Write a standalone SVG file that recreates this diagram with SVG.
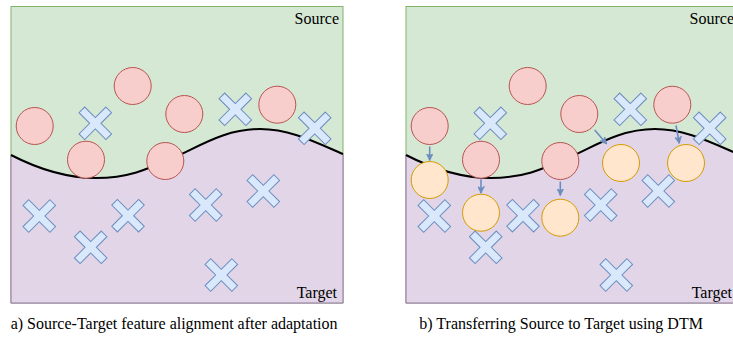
<svg xmlns="http://www.w3.org/2000/svg" xmlns:xlink="http://www.w3.org/1999/xlink" width="733" height="337" viewBox="0 0 733 337">
<style>
.src{fill:#d5e8d4;stroke:#82b366;stroke-width:1}
.tgt{fill:#e1d5e7;stroke:none}
.tgtb{fill:none;stroke:#9673a6;stroke-width:1}
.bound{fill:none;stroke:#000;stroke-width:2}
.red{fill:#f8cecc;stroke:#b85450;stroke-width:1}
.org{fill:#ffe6cc;stroke:#d79b00;stroke-width:1}
.xs{fill:#dae8fc;stroke:#6c8ebf;stroke-width:1}
.arr{fill:none;stroke:#6c8ebf;stroke-width:1.6}
text{font-family:'Liberation Serif','DejaVu Serif',serif;font-size:16px;fill:#000}
</style>
<defs>
<polygon id="cross" transform="rotate(45)" points="-4,-19 4,-19 4,-4 19,-4 19,4 4,4 4,19 -4,19 -4,4 -19,4 -19,-4 -4,-4"/>
<marker id="ah" viewBox="0 0 10 10" refX="10" refY="5" markerWidth="7" markerHeight="7" markerUnits="userSpaceOnUse" orient="auto">
<path d="M0,0 L10,5 L0,10 L3,5 Z" fill="#6c8ebf" stroke="#6c8ebf" stroke-width="1"/>
</marker>
</defs>

<!-- Panel a -->
<g id="panelA-regions">
<rect class="src" x="11" y="6.5" width="332" height="296.5"/>
<path class="tgt" d="M11,155 C40,170 70,178 96,178 C130,178 150,168 175,157 C200,146 225,129 260,129 C290,129 315,142 343,154 L343,303 L11,303 Z"/>
<path class="tgtb" d="M11,155 L11,303 L343,303 L343,154"/>
<path class="bound" d="M11,155 C40,170 70,178 96,178 C130,178 150,168 175,157 C200,146 225,129 260,129 C290,129 315,142 343,154"/>
<text font-family="Liberation Serif, DejaVu Serif, serif" x="339" y="24" text-anchor="end">Source</text>
<text font-family="Liberation Serif, DejaVu Serif, serif" x="337" y="298" text-anchor="end">Target</text>
</g>
<g id="a-s1"><circle class="red" cx="34.7" cy="126" r="18.5"/></g>
<g id="a-s2"><circle class="red" cx="132.7" cy="86" r="18.5"/></g>
<g id="a-s3"><circle class="red" cx="184.3" cy="114" r="18.5"/></g>
<g id="a-s4"><circle class="red" cx="277.3" cy="104.7" r="18.5"/></g>
<g id="a-s5"><circle class="red" cx="86" cy="159.7" r="18.5"/></g>
<g id="a-s6"><circle class="red" cx="165.3" cy="161" r="18.5"/></g>
<g id="a-t1"><use class="xs" xlink:href="#cross" href="#cross" x="95.3" y="123.3"/></g>
<g id="a-t2"><use class="xs" xlink:href="#cross" href="#cross" x="235.3" y="109.3"/></g>
<g id="a-t3"><use class="xs" xlink:href="#cross" href="#cross" x="314.7" y="128.3"/></g>
<g id="a-t4"><use class="xs" xlink:href="#cross" href="#cross" x="39.3" y="216"/></g>
<g id="a-t5"><use class="xs" xlink:href="#cross" href="#cross" x="128" y="215.7"/></g>
<g id="a-t6"><use class="xs" xlink:href="#cross" href="#cross" x="90.7" y="247.3"/></g>
<g id="a-t7"><use class="xs" xlink:href="#cross" href="#cross" x="205.7" y="205"/></g>
<g id="a-t8"><use class="xs" xlink:href="#cross" href="#cross" x="263.3" y="191"/></g>
<g id="a-t9"><use class="xs" xlink:href="#cross" href="#cross" x="221.3" y="275"/></g>
<text font-family="Liberation Serif, DejaVu Serif, serif" x="10.7" y="329">a) Source-Target feature alignment after adaptation</text>

<!-- Panel b -->
<g id="panelB-regions">
<rect class="src" x="406" y="6.5" width="332" height="296.5"/>
<path class="tgt" d="M406,155 C435,170 465,178 491,178 C525,178 545,168 570,157 C595,146 620,129 655,129 C685,129 710,142 738,154 L738,303 L406,303 Z"/>
<path class="tgtb" d="M406,155 L406,303 L738,303 L738,154"/>
<path class="bound" d="M406,155 C435,170 465,178 491,178 C525,178 545,168 570,157 C595,146 620,129 655,129 C685,129 710,142 738,154"/>
<text font-family="Liberation Serif, DejaVu Serif, serif" x="734" y="24" text-anchor="end">Source</text>
<text font-family="Liberation Serif, DejaVu Serif, serif" x="732" y="298" text-anchor="end">Target</text>
</g>
<g id="b-s1"><circle class="red" cx="429.7" cy="126" r="18.5"/></g>
<g id="b-s2"><circle class="red" cx="527.7" cy="86" r="18.5"/></g>
<g id="b-s3"><circle class="red" cx="579.3" cy="114" r="18.5"/></g>
<g id="b-s4"><circle class="red" cx="672.3" cy="104.7" r="18.5"/></g>
<g id="b-s5"><circle class="red" cx="481" cy="159.7" r="18.5"/></g>
<g id="b-s6"><circle class="red" cx="560.3" cy="161" r="18.5"/></g>
<g id="b-t1"><use class="xs" xlink:href="#cross" href="#cross" x="490.3" y="123.3"/></g>
<g id="b-t2"><use class="xs" xlink:href="#cross" href="#cross" x="630.3" y="109.3"/></g>
<g id="b-t3"><use class="xs" xlink:href="#cross" href="#cross" x="709.7" y="128.3"/></g>
<g id="b-t4"><use class="xs" xlink:href="#cross" href="#cross" x="434.3" y="216"/></g>
<g id="b-t5"><use class="xs" xlink:href="#cross" href="#cross" x="523" y="215.7"/></g>
<g id="b-t6"><use class="xs" xlink:href="#cross" href="#cross" x="485.7" y="247.3"/></g>
<g id="b-t7"><use class="xs" xlink:href="#cross" href="#cross" x="600.7" y="205"/></g>
<g id="b-t8"><use class="xs" xlink:href="#cross" href="#cross" x="658.3" y="191"/></g>
<g id="b-t9"><use class="xs" xlink:href="#cross" href="#cross" x="616.3" y="275"/></g>
<g id="b-m1"><circle class="org" cx="429.7" cy="180" r="18.5"/></g>
<g id="b-m2"><circle class="org" cx="481" cy="212.7" r="18.5"/></g>
<g id="b-m3"><circle class="org" cx="560.3" cy="217.7" r="18.5"/></g>
<g id="b-m4"><circle class="org" cx="621" cy="163" r="18.5"/></g>
<g id="b-m5"><circle class="org" cx="686" cy="163" r="18.5"/></g>
<g id="connectors">
<line class="arr" x1="429.7" y1="146.5" x2="429.7" y2="160.5" marker-end="url(#ah)"/>
<line class="arr" x1="481" y1="179.3" x2="481" y2="193.3" marker-end="url(#ah)"/>
<line class="arr" x1="560.3" y1="181.5" x2="560.3" y2="195.5" marker-end="url(#ah)"/>
<line class="arr" x1="594.7" y1="130" x2="606.7" y2="144" marker-end="url(#ah)"/>
<line class="arr" x1="676" y1="125.5" x2="679.3" y2="143.5" marker-end="url(#ah)"/>
</g>
<text font-family="Liberation Serif, DejaVu Serif, serif" x="419.3" y="329">b) Transferring Source to Target using DTM</text>
</svg>
